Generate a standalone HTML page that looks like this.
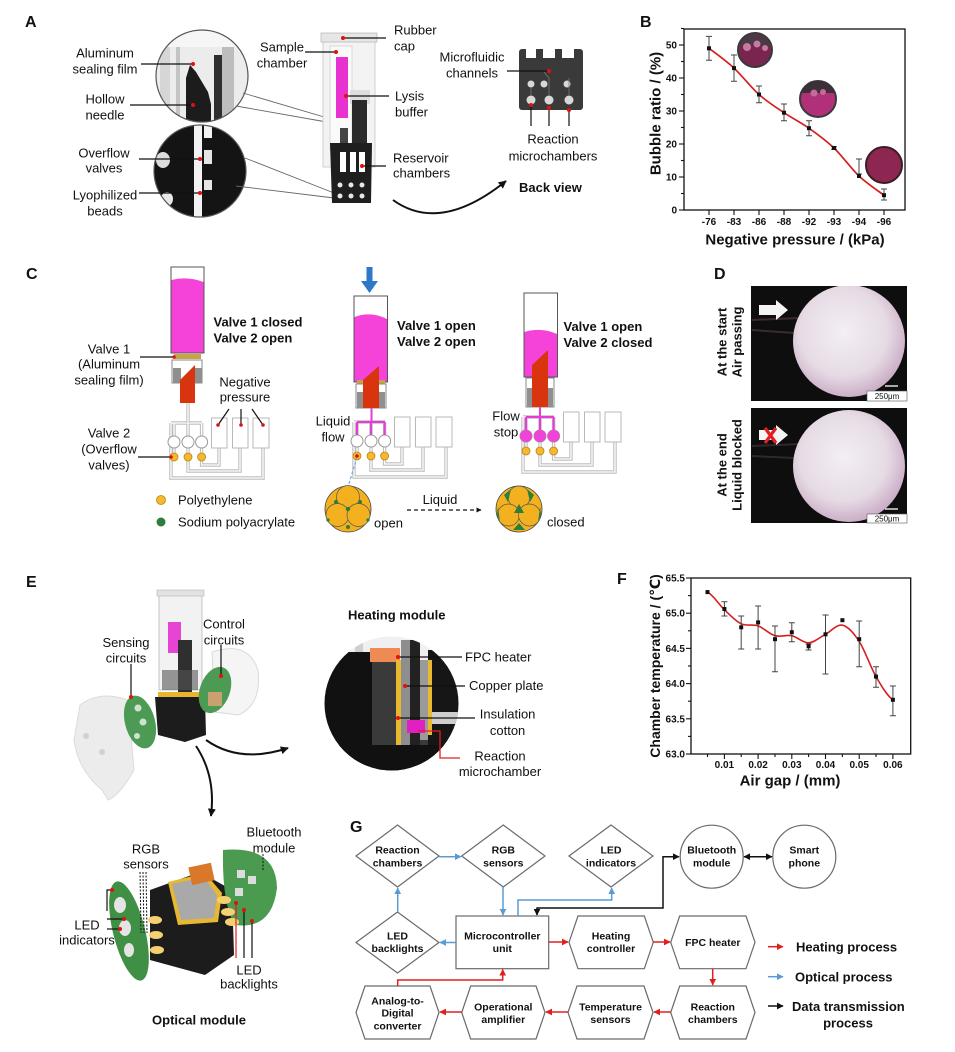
<!DOCTYPE html>
<html><head><meta charset="utf-8">
<style>
html,body{margin:0;padding:0;background:#fff;}
svg{display:block;}
text{font-family:"Liberation Sans",Arial,"DejaVu Sans",sans-serif;fill:#111;}
.b{font-weight:bold;}
.l13{font-size:13px;}
.g{font-size:10.5px;font-weight:bold;fill:#222;}
</style></head><body>
<svg width="955" height="1052" viewBox="0 0 955 1052" xmlns="http://www.w3.org/2000/svg">
<defs>
<marker id="mr" viewBox="0 0 10 10" refX="9" refY="5" markerWidth="4.5" markerHeight="4.5" orient="auto-start-reverse"><path d="M0,0 L10,5 L0,10 z" fill="#e02020"/></marker>
<marker id="mb" viewBox="0 0 10 10" refX="9" refY="5" markerWidth="4.5" markerHeight="4.5" orient="auto-start-reverse"><path d="M0,0 L10,5 L0,10 z" fill="#5b9bd5"/></marker>
<marker id="mk" viewBox="0 0 10 10" refX="9" refY="5" markerWidth="4.5" markerHeight="4.5" orient="auto-start-reverse"><path d="M0,0 L10,5 L0,10 z" fill="#111"/></marker>
<marker id="mk2" viewBox="0 0 10 10" refX="9" refY="5" markerWidth="4" markerHeight="4" orient="auto-start-reverse"><path d="M0,0 L10,5 L0,10 z" fill="#111"/></marker>
<clipPath id="cA1"><circle cx="202" cy="76" r="46"/></clipPath>
<clipPath id="cA2"><circle cx="200" cy="171" r="46"/></clipPath>
<clipPath id="cE"><circle cx="391.5" cy="703.5" r="67"/></clipPath>
<clipPath id="cD1"><rect x="751" y="286" width="156" height="115"/></clipPath>
<clipPath id="cD2"><rect x="751" y="408" width="156" height="115"/></clipPath>
<radialGradient id="sph" cx="45%" cy="42%" r="60%"><stop offset="0" stop-color="#f3eff3"/><stop offset="0.65" stop-color="#e6dbe5"/><stop offset="1" stop-color="#c9aac4"/></radialGradient>
<g id="chp">
<path d="M171,423 H202"/><path d="M171,423 V478 H263 V448"/>
<path d="M174,423 V436 M188,423 V436 M201.6,423 V436"/>
<path d="M188,461 V471 H240 V448"/><path d="M201.6,461 V465 H219 V448"/>
<path d="M174,448 V453 M188,448 V453 M201.6,448 V453"/>
</g>
</defs>
<rect width="955" height="1052" fill="#fff"/>

<!-- ================= PANEL A ================= -->
<text x="25" y="27" class="b" font-size="16">A</text>
<g clip-path="url(#cA1)">
<rect x="150" y="25" width="110" height="110" fill="#ececec"/>
<rect x="160" y="25" width="10" height="110" fill="#d6d6d6"/>
<rect x="176" y="25" width="4" height="110" fill="#c4c4c4"/>
<rect x="214" y="55" width="8" height="80" fill="#2e2e2e"/>
<rect x="222" y="25" width="12" height="110" fill="#bdbdbd"/>
<rect x="150" y="25" width="110" height="22" fill="#f6f6f6"/>
<path d="M186,125 L186,78 L190,65 L196,72 L208,92 L211,104 L211,125 Z" fill="#1c1c1c"/>
</g>
<circle cx="202" cy="76" r="46" fill="none" stroke="#555" stroke-width="1.2"/>
<g clip-path="url(#cA2)">
<rect x="150" y="120" width="110" height="110" fill="#141414"/>
<rect x="194" y="120" width="8" height="110" fill="#f2f2f2"/>
<rect x="204" y="120" width="8" height="18" fill="#f2f2f2"/>
<rect x="204" y="150" width="8" height="14" fill="#e5e5e5"/>
<rect x="204" y="180" width="8" height="10" fill="#e5e5e5"/>
<ellipse cx="163" cy="160" rx="7" ry="8" fill="#ddd"/>
<ellipse cx="167" cy="199" rx="6" ry="7" fill="#e8e8e8"/>
</g>
<circle cx="200" cy="171" r="46" fill="none" stroke="#555" stroke-width="1.2"/>
<line x1="243" y1="93" x2="341" y2="122" stroke="#666" stroke-width="0.9"/>
<line x1="236" y1="106" x2="338" y2="124" stroke="#666" stroke-width="0.9"/>
<line x1="245" y1="158" x2="334" y2="193" stroke="#666" stroke-width="0.9"/>
<line x1="236" y1="186" x2="334" y2="198" stroke="#666" stroke-width="0.9"/>
<g class="l13" text-anchor="middle">
<text x="105" y="57.5">Aluminum</text><text x="105" y="73.5">sealing film</text>
<text x="105" y="103.5">Hollow</text><text x="105" y="119.5">needle</text>
<text x="104" y="157.5">Overflow</text><text x="104" y="172.5">valves</text>
<text x="105" y="199.5">Lyophilized</text><text x="105" y="215.5">beads</text>
</g>
<g stroke="#111" stroke-width="1.2">
<line x1="141" y1="64" x2="193" y2="64"/><line x1="130" y1="105" x2="193" y2="105"/>
<line x1="139" y1="159" x2="200" y2="159"/><line x1="139" y1="193" x2="200" y2="193"/>
</g>
<g fill="#e01010"><circle cx="193" cy="64" r="2"/><circle cx="193" cy="105" r="2"/><circle cx="200" cy="159" r="2"/><circle cx="200" cy="193" r="2"/></g>
<rect x="323" y="36" width="52" height="131" fill="#f3f3f3" stroke="#cfcfcf"/>
<rect x="321" y="33" width="56" height="9" fill="#e6e6e6" stroke="#bbb" stroke-width="0.8"/>
<rect x="330" y="46" width="22" height="104" fill="#fafafa" stroke="#d8d8d8"/>
<rect x="336" y="57" width="12" height="61" fill="#e832d0"/>
<rect x="350" y="90" width="20" height="14" fill="#ddd"/>
<rect x="352" y="100" width="15" height="47" fill="#2a2a2a"/>
<rect x="340" y="128" width="8" height="20" fill="#444"/>
<path d="M330,143 L372,143 L371,203 L332,203 Z" fill="#1f1f1f"/>
<rect x="340" y="152" width="6" height="20" fill="#fff"/><rect x="350" y="152" width="6" height="20" fill="#fff"/><rect x="359" y="152" width="6" height="20" fill="#fff"/>
<g fill="#e8e8e8"><circle cx="340" cy="185" r="2.5"/><circle cx="351" cy="185" r="2.5"/><circle cx="362" cy="185" r="2.5"/><circle cx="340" cy="196" r="2.5"/><circle cx="351" cy="196" r="2.5"/><circle cx="362" cy="196" r="2.5"/></g>
<g class="l13">
<text x="282" y="51.5" text-anchor="middle">Sample</text><text x="282" y="67.5" text-anchor="middle">chamber</text>
<text x="394" y="34.5">Rubber</text><text x="394" y="50.5">cap</text>
<text x="395" y="100.5">Lysis</text><text x="395" y="116.5">buffer</text>
<text x="393" y="162.5">Reservoir</text><text x="393" y="177.5">chambers</text>
</g>
<g stroke="#111" stroke-width="1.2">
<line x1="305" y1="52" x2="336" y2="52"/><line x1="343" y1="38" x2="386" y2="38"/>
<line x1="346" y1="96" x2="389" y2="96"/><line x1="362" y1="166" x2="386" y2="166"/>
</g>
<g fill="#e01010"><circle cx="336" cy="52" r="2"/><circle cx="343" cy="38" r="2"/><circle cx="346" cy="96" r="2"/><circle cx="362" cy="166" r="2"/></g>
<path d="M393,200 Q440,234 506,181" fill="none" stroke="#111" stroke-width="2" marker-end="url(#mk2)"/>
<rect x="519" y="49" width="64" height="61" rx="3" fill="#3a3a3a"/>
<rect x="526" y="48" width="10" height="10" fill="#fff"/><rect x="543" y="48" width="12" height="10" fill="#fff"/><rect x="562" y="48" width="12" height="10" fill="#fff"/>
<g fill="#d8d8d8"><circle cx="531" cy="84" r="3.5"/><circle cx="544" cy="84" r="3.5"/><circle cx="567" cy="84" r="3.5"/><circle cx="531" cy="100" r="4.5"/><circle cx="549" cy="100" r="4.5"/><circle cx="569" cy="100" r="4.5"/></g>
<path d="M531,96 L531,88 M549,96 L549,78 L544,72 M569,96 L569,78" stroke="#777" stroke-width="0.8" fill="none"/>
<g class="l13" text-anchor="middle">
<text x="472" y="61.5">Microfluidic</text><text x="472" y="77.5">channels</text>
<text x="553" y="143.5">Reaction</text><text x="553" y="160.5">microchambers</text>
</g>
<g stroke="#111" stroke-width="1.2"><line x1="507" y1="71" x2="549" y2="71"/><line x1="531" y1="105" x2="531" y2="126"/><line x1="549" y1="108" x2="549" y2="126"/><line x1="569" y1="110" x2="569" y2="126"/></g>
<g fill="#e01010"><circle cx="549" cy="71" r="2"/><circle cx="531" cy="105" r="2"/><circle cx="549" cy="108" r="2"/><circle cx="569" cy="110" r="2"/></g>
<text x="519" y="192" class="b" font-size="13">Back view</text>

<!-- ================= PANEL B ================= -->
<text x="640" y="27" class="b" font-size="16">B</text>
<rect x="684" y="29" width="221" height="181" fill="none" stroke="#111" stroke-width="1.3"/>
<g stroke="#111" stroke-width="1.1">
<line x1="679" y1="210" x2="684" y2="210"/><line x1="679" y1="177" x2="684" y2="177"/><line x1="679" y1="144" x2="684" y2="144"/><line x1="679" y1="111" x2="684" y2="111"/><line x1="679" y1="78" x2="684" y2="78"/><line x1="679" y1="45" x2="684" y2="45"/>
<line x1="681" y1="193.5" x2="684" y2="193.5"/><line x1="681" y1="160.5" x2="684" y2="160.5"/><line x1="681" y1="127.5" x2="684" y2="127.5"/><line x1="681" y1="94.5" x2="684" y2="94.5"/><line x1="681" y1="61.5" x2="684" y2="61.5"/><line x1="681" y1="28.5" x2="684" y2="28.5"/>
<line x1="709" y1="210" x2="709" y2="215"/><line x1="734" y1="210" x2="734" y2="215"/><line x1="759" y1="210" x2="759" y2="215"/><line x1="784" y1="210" x2="784" y2="215"/><line x1="809" y1="210" x2="809" y2="215"/><line x1="834" y1="210" x2="834" y2="215"/><line x1="859" y1="210" x2="859" y2="215"/><line x1="884" y1="210" x2="884" y2="215"/>
</g>
<g class="b" font-size="10" text-anchor="end">
<text x="677" y="213.5">0</text><text x="677" y="180.5">10</text><text x="677" y="147.5">20</text><text x="677" y="114.5">30</text><text x="677" y="81.5">40</text><text x="677" y="48.5">50</text>
</g>
<g class="b" font-size="10" text-anchor="middle">
<text x="709" y="225">-76</text><text x="734" y="225">-83</text><text x="759" y="225">-86</text><text x="784" y="225">-88</text><text x="809" y="225">-92</text><text x="834" y="225">-93</text><text x="859" y="225">-94</text><text x="884" y="225">-96</text>
</g>
<text x="795" y="244.5" class="b" font-size="15" text-anchor="middle">Negative pressure / (kPa)</text>
<text transform="translate(660.5,113.5) rotate(-90)" class="b" font-size="15" text-anchor="middle">Bubble ratio / (%)</text>
<circle cx="755" cy="50" r="17" fill="#7a2550" stroke="#3a3a3a" stroke-width="2"/>
<path d="M739,46 A17,17 0 0 1 771,46 Z" fill="#4a3a44"/>
<g fill="#c67aa2"><circle cx="747" cy="47" r="4"/><circle cx="757" cy="44" r="3.5"/><circle cx="765" cy="48" r="3"/></g>
<circle cx="818" cy="99" r="18" fill="#b0307a" stroke="#3a3a3a" stroke-width="2"/>
<path d="M801,93 A18,18 0 0 1 835,93 Z" fill="#3d2f38"/>
<g fill="#c56a9b"><circle cx="814" cy="93" r="3.5"/><circle cx="823" cy="92" r="3"/></g>
<circle cx="884" cy="165" r="18" fill="#8d2650" stroke="#3a1c28" stroke-width="2"/>
<path d="M709,48.3 C713.2,51.6 725.7,60.4 734,68.1 C742.3,75.8 750.7,87.1 759,94.5 C767.3,101.9 775.7,107.1 784,112.7 C792.3,118.3 800.7,122.3 809,128.2 C817.3,134.1 825.7,140 834,148 C842.3,156 850.7,168.1 859,176 C867.3,183.9 879.8,192 884,195.2" fill="none" stroke="#d42020" stroke-width="1.7"/>
<g stroke="#444" stroke-width="1">
<path d="M709,36.4V60.2M706,36.4H712M706,60.2H712"/>
<path d="M734,55V81.3M731,55H737M731,81.3H737"/>
<path d="M759,86V102.7M756,86H762M756,102.7H762"/>
<path d="M784,104V120.7M781,104H787M781,120.7H787"/>
<path d="M809,120.7V135.7M806,120.7H812M806,135.7H812"/>
<path d="M834,146.7V149.3M831,146.7H837M831,149.3H837"/>
<path d="M859,159V174M856,159H862M856,174H862"/>
<path d="M884,189V200M881,189H887M881,200H887"/>
</g>
<g fill="#111"><rect x="707" y="46.3" width="4" height="4"/><rect x="732" y="66.1" width="4" height="4"/><rect x="757" y="92.5" width="4" height="4"/><rect x="782" y="110.7" width="4" height="4"/><rect x="807" y="126.2" width="4" height="4"/><rect x="832" y="146" width="4" height="4"/><rect x="857" y="174" width="4" height="4"/><rect x="882" y="193.2" width="4" height="4"/></g>

<!-- ================= PANEL C ================= -->
<text x="26" y="279" class="b" font-size="16">C</text>
<g id="net1">
<use href="#chp" stroke="#bdbdbd" stroke-width="3.4" fill="none"/>
<use href="#chp" stroke="#fff" stroke-width="1.3" fill="none"/>
<g fill="#fff" stroke="#b8b8b8" stroke-width="1"><rect x="211.5" y="418" width="15.5" height="30"/><rect x="232.5" y="418" width="15.5" height="30"/><rect x="253" y="418" width="16" height="30"/></g>
<g fill="#fff" stroke="#999" stroke-width="1"><circle cx="174" cy="442" r="6"/><circle cx="188" cy="442" r="6"/><circle cx="201.6" cy="442" r="6"/></g>
<g fill="#f5b82e" stroke="#b98510" stroke-width="0.8"><circle cx="174" cy="457" r="4"/><circle cx="188" cy="457" r="4"/><circle cx="201.6" cy="457" r="4"/></g>
</g>
<!-- syringe S1 -->
<rect x="171" y="267" width="33" height="86" fill="#fff" stroke="#555" stroke-width="1"/>
<path d="M171.5,280 Q187,276 203.5,282 V352.5 H171.5 Z" fill="#f542d8"/>
<rect x="174" y="354" width="27" height="5" fill="#c8a24a"/>
<rect x="172" y="360" width="30" height="23" fill="#fff" stroke="#888" stroke-width="1"/>
<rect x="173" y="368" width="8" height="15" fill="#8f8f8f"/><rect x="194" y="368" width="8" height="15" fill="#8f8f8f"/>
<line x1="188" y1="403" x2="188" y2="423" stroke="#bdbdbd" stroke-width="3.4"/>
<line x1="188" y1="403" x2="188" y2="423" stroke="#fff" stroke-width="1.3"/>
<path d="M180,403 L180,380 L195,365 L195,403 Z" fill="#d8340e"/>
<g class="b" font-size="13"><text x="213.5" y="326.5">Valve 1 closed</text><text x="213.5" y="342.5">Valve 2 open</text></g>
<g class="l13" text-anchor="middle">
<text x="109" y="353.5">Valve 1</text><text x="109" y="368.5">(Aluminum</text><text x="109" y="384.5">sealing film)</text>
<text x="245" y="386.5">Negative</text><text x="245" y="401.5">pressure</text>
<text x="109" y="437.5">Valve 2</text><text x="109" y="453.5">(Overflow</text><text x="109" y="469.5">valves)</text>
</g>
<g stroke="#111" stroke-width="1.2">
<line x1="140" y1="357" x2="174" y2="357"/><line x1="138" y1="457" x2="171" y2="457"/>
<line x1="229" y1="409" x2="218" y2="425"/><line x1="241" y1="409" x2="241" y2="425"/><line x1="252" y1="409" x2="263" y2="425"/>
</g>
<g fill="#e01010"><circle cx="174" cy="357" r="1.8"/><circle cx="171" cy="457" r="1.8"/><circle cx="218" cy="425" r="1.8"/><circle cx="241" cy="425" r="1.8"/><circle cx="263" cy="425" r="1.8"/></g>
<!-- S2 -->
<use href="#net1" transform="translate(183,-1)"/>
<g stroke="#e83ad8" stroke-width="2" fill="none"><path d="M371.5,408 V422 M357,422 H385 M357,422 V435 M371,422 V435 M384.6,422 V435"/></g>
<polygon points="366.5,267 372.5,267 372.5,281 378,281 369.5,293 361,281 366.5,281" fill="#2f78c8"/>
<rect x="354" y="296" width="33.5" height="86" fill="#fff" stroke="#555" stroke-width="1"/>
<path d="M354.5,317 Q371,311 387,319 V381.5 H354.5 Z" fill="#f542d8"/>
<rect x="357" y="380" width="28" height="4" fill="#c8a24a"/>
<rect x="356" y="384" width="30" height="24" fill="#fff" stroke="#888" stroke-width="1"/>
<rect x="357" y="392" width="8" height="16" fill="#8f8f8f"/><rect x="377" y="392" width="8" height="16" fill="#8f8f8f"/>
<path d="M363,408 L363,380 L379,366 L379,408 Z" fill="#d8340e"/>
<g class="b" font-size="13"><text x="397" y="330">Valve 1 open</text><text x="397" y="346">Valve 2 open</text></g>
<g class="l13" text-anchor="middle"><text x="333" y="425.5">Liquid</text><text x="333" y="441.5">flow</text></g>
<line x1="357" y1="457" x2="348" y2="487" stroke="#7aa6d6" stroke-width="1.2" stroke-dasharray="3,2"/>
<circle cx="357" cy="456" r="1.8" fill="#e01010"/>
<!-- S3 -->
<use href="#net1" transform="translate(352,-6)"/>
<g stroke="#e83ad8" stroke-width="2" fill="none"><path d="M540,407 V417 M526,417 H554 M526,417 V430 M540,417 V430 M553.6,417 V430"/></g>
<g fill="#f044d8"><circle cx="526" cy="436" r="6"/><circle cx="540" cy="436" r="6"/><circle cx="553.6" cy="436" r="6"/></g>
<rect x="524" y="293" width="33.5" height="84" fill="#fff" stroke="#555" stroke-width="1"/>
<path d="M524.5,332 Q541,327 557,334 V376.5 H524.5 Z" fill="#f542d8"/>
<rect x="526" y="378" width="28" height="29" fill="#fff" stroke="#888" stroke-width="1"/>
<rect x="527" y="388" width="7" height="19" fill="#8f8f8f"/><rect x="546" y="388" width="7" height="19" fill="#8f8f8f"/>
<path d="M532,407 L532,365 L548,350 L548,407 Z" fill="#d8340e"/>
<g class="b" font-size="13"><text x="563.5" y="331">Valve 1 open</text><text x="563.5" y="347">Valve 2 closed</text></g>
<g class="l13" text-anchor="middle"><text x="506" y="420.5">Flow</text><text x="506" y="436.5">stop</text></g>
<circle cx="161" cy="500" r="4.5" fill="#f5b82e" stroke="#b98510" stroke-width="0.8"/>
<circle cx="161" cy="522" r="4.5" fill="#2e7d3a"/>
<g class="l13"><text x="178" y="504.5">Polyethylene</text><text x="178" y="526.5">Sodium polyacrylate</text></g>
<g>
<circle cx="348" cy="509" r="23" fill="#f3b120" stroke="#444" stroke-width="0.8"/>
<g fill="#f3b120" stroke="#555" stroke-width="0.7"><circle cx="348" cy="497" r="11.5"/><circle cx="337.5" cy="515" r="11.5"/><circle cx="358.5" cy="515" r="11.5"/></g>
<g fill="#2e7d3a"><circle cx="348" cy="509" r="2.2"/><circle cx="336" cy="502" r="2"/><circle cx="360" cy="502" r="2"/><circle cx="348" cy="527" r="2"/><circle cx="328" cy="520" r="1.6"/><circle cx="368" cy="520" r="1.6"/></g>
</g>
<text x="374" y="527.5" class="l13">open</text>
<text x="440" y="504" class="l13" text-anchor="middle">Liquid</text>
<line x1="407" y1="510" x2="481" y2="510" stroke="#111" stroke-width="1.3" stroke-dasharray="4,3" marker-end="url(#mk2)"/>
<g>
<circle cx="519" cy="509" r="23" fill="#f3b120" stroke="#444" stroke-width="0.8"/>
<g fill="#f3b120" stroke="#555" stroke-width="0.7"><circle cx="519" cy="497" r="11"/><circle cx="508.5" cy="515" r="11"/><circle cx="529.5" cy="515" r="11"/></g>
<g fill="#2e7d3a"><path d="M519,504 L524,513 L514,513 Z"/><path d="M504,495 L511,489 L508,502 Z"/><path d="M534,495 L527,489 L530,502 Z"/><path d="M513,530 L525,530 L519,523 Z"/><path d="M497,514 L500,522 L498,507 Z"/><path d="M541,514 L538,522 L540,507 Z"/></g>
</g>
<text x="547" y="526.5" class="l13">closed</text>

<!-- ================= PANEL D ================= -->
<text x="714" y="279" class="b" font-size="16">D</text>
<rect x="751" y="286" width="156" height="115" fill="#0e0e0e"/>
<g clip-path="url(#cD1)">
<path d="M752,320 L800,318 M752,330 L795,333" stroke="#3a2a34" stroke-width="2"/>
<circle cx="849" cy="341" r="56" fill="url(#sph)"/>
</g>
<polygon points="759,305 776,305 776,300 788,310 776,320 776,315 759,315" fill="#f4f4f4"/>
<rect x="867" y="391" width="40" height="10" fill="#fff" stroke="#555" stroke-width="0.6"/>
<text x="887" y="399" font-size="8" text-anchor="middle">250μm</text>
<line x1="885" y1="386" x2="898" y2="386" stroke="#fff" stroke-width="1.3"/>
<rect x="751" y="408" width="156" height="115" fill="#0e0e0e"/>
<g clip-path="url(#cD2)">
<path d="M752,446 L800,444 M752,456 L795,458" stroke="#2e2a2c" stroke-width="2"/>
<circle cx="849" cy="466" r="56" fill="url(#sph)"/>
</g>
<polygon points="759,430 776,430 776,425 788,435 776,445 776,440 759,440" fill="#f4f4f4"/>
<path d="M765,428 L776,443 M776,428 L765,443" stroke="#e02020" stroke-width="3.2"/>
<rect x="867" y="514" width="40" height="9" fill="#fff" stroke="#555" stroke-width="0.6"/>
<text x="887" y="521.5" font-size="8" text-anchor="middle">250μm</text>
<line x1="885" y1="509" x2="898" y2="509" stroke="#fff" stroke-width="1.3"/>
<g class="b" font-size="13" text-anchor="middle">
<text transform="translate(726.5,342) rotate(-90)">At the start</text>
<text transform="translate(741.5,342) rotate(-90)">Air passing</text>
<text transform="translate(726.5,465) rotate(-90)">At the end</text>
<text transform="translate(741.5,465) rotate(-90)">Liquid blocked</text>
</g>

<!-- ================= PANEL E ================= -->
<text x="26" y="587" class="b" font-size="16">E</text>
<path d="M80,705 Q100,690 128,700 L134,770 Q120,795 108,800 L102,790 Q78,770 74,740 Z" fill="#ececec" stroke="#dcdcdc"/>
<circle cx="86" cy="736" r="3" fill="#d0d0d0"/><circle cx="102" cy="752" r="3" fill="#d0d0d0"/>
<ellipse cx="140" cy="722" rx="15" ry="27" transform="rotate(-15 140 722)" fill="#4d9a55"/>
<g fill="#cfe2cf"><circle cx="138" cy="708" r="3.5"/><circle cx="143" cy="722" r="3.5"/><circle cx="137" cy="736" r="3"/></g>
<rect x="159" y="592" width="43" height="98" fill="#f2f2f2" stroke="#c4c4c4"/>
<rect x="157" y="590" width="47" height="6" fill="#e2e2e2" stroke="#bdbdbd" stroke-width="0.7"/>
<rect x="168" y="622" width="13" height="31" fill="#e545d2"/>
<rect x="178" y="640" width="14" height="52" fill="#2f2f2f"/>
<rect x="162" y="670" width="36" height="20" fill="#555" opacity="0.6"/>
<path d="M155,697 L205,697 L206,735 L185,742 L158,735 Z" fill="#1c1c1c"/>
<rect x="158" y="692" width="44" height="5" fill="#e8b52e"/>
<path d="M212,652 Q248,640 258,670 Q262,705 238,715 L215,712 Z" fill="#f5f5f5" stroke="#dadada"/>
<ellipse cx="215" cy="690" rx="15" ry="24" transform="rotate(20 215 690)" fill="#4d9a55"/>
<rect x="208" y="692" width="14" height="14" fill="#c9a070"/>
<g class="l13" text-anchor="middle">
<text x="126" y="647">Sensing</text><text x="126" y="662.5">circuits</text>
<text x="224" y="628.5">Control</text><text x="224" y="644.5">circuits</text>
</g>
<g stroke="#111" stroke-width="1.2"><line x1="131" y1="664" x2="131" y2="697"/><line x1="221" y1="645" x2="221" y2="676"/></g>
<g fill="#e01010"><circle cx="131" cy="697" r="2"/><circle cx="221" cy="676" r="2"/></g>
<path d="M206,740 Q240,764 288,748" fill="none" stroke="#111" stroke-width="2" marker-end="url(#mk2)"/>
<path d="M196,746 Q216,776 211,816" fill="none" stroke="#111" stroke-width="2" marker-end="url(#mk2)"/>
<text x="348" y="619.5" class="b" font-size="13">Heating module</text>
<g clip-path="url(#cE)">
<rect x="320" y="630" width="145" height="145" fill="#f0f0f0"/>
<rect x="355" y="630" width="8" height="30" fill="#cfcfcf"/><rect x="440" y="630" width="10" height="30" fill="#d4d4d4"/>
<path d="M324,666 L346,652 L372,652 L372,775 L320,775 Z" fill="#111"/>
<rect x="428" y="650" width="40" height="125" fill="#161616"/>
<rect x="372" y="660" width="56" height="115" fill="#3a3a3a"/>
<rect x="370" y="648" width="30" height="14" fill="#f08a55"/>
<rect x="396" y="660" width="5" height="100" fill="#e8b830"/>
<rect x="401" y="640" width="9" height="120" fill="#8e8e8e"/>
<rect x="410" y="640" width="10" height="120" fill="#222"/>
<rect x="420" y="660" width="8" height="80" fill="#9a9a9a"/>
<rect x="428" y="660" width="4" height="75" fill="#e8b830"/>
<rect x="407" y="720" width="18" height="13" fill="#e020c0"/>
<rect x="432" y="712" width="30" height="12" fill="#cfcfcf"/>
<rect x="320" y="745" width="145" height="30" fill="#111"/>
</g>
<g class="l13">
<text x="465" y="661.5">FPC heater</text><text x="469" y="690">Copper plate</text>
<text x="507.6" y="718.5" text-anchor="middle">Insulation</text><text x="507.6" y="735" text-anchor="middle">cotton</text>
<text x="500" y="760.5" text-anchor="middle">Reaction</text><text x="500" y="776" text-anchor="middle">microchamber</text>
</g>
<g stroke="#111" stroke-width="1.2"><line x1="398" y1="657" x2="462" y2="657"/><line x1="405" y1="686" x2="465" y2="686"/><line x1="398" y1="718" x2="475" y2="718"/></g>
<polyline points="418,731 440,731 440,758 460,758" fill="none" stroke="#e02020" stroke-width="1.3"/>
<g fill="#e01010"><circle cx="398" cy="657" r="2"/><circle cx="405" cy="686" r="2"/><circle cx="398" cy="718" r="2"/></g>
<ellipse cx="129" cy="931" rx="16" ry="51" transform="rotate(-14 129 931)" fill="#3f8f45"/>
<g fill="#e4e4e4"><ellipse cx="120" cy="905" rx="6" ry="8"/><ellipse cx="125" cy="928" rx="6" ry="8"/><ellipse cx="129" cy="950" rx="5" ry="7"/></g>
<path d="M150,890 L200,872 L232,890 L234,955 L205,975 L150,960 Z" fill="#1c1c1c"/>
<path d="M168,882 L205,873 L222,893 L218,922 L178,925 Z" fill="#e8b830"/>
<path d="M172,884 L204,877 L217,895 L214,918 L181,920 Z" fill="#a9a9a9"/>
<rect x="190" y="865" width="23" height="18" fill="#d9772a" transform="rotate(-12 201 874)"/>
<path d="M223,850 Q276,845 277,888 Q272,930 235,925 Q222,905 223,850 Z" fill="#4a9a50"/>
<g fill="#dcdcdc"><rect x="237" y="870" width="8" height="8"/><rect x="248" y="876" width="8" height="8"/><rect x="235" y="888" width="8" height="8"/></g>
<g fill="#f5d070"><ellipse cx="155" cy="920" rx="7" ry="4"/><ellipse cx="156" cy="935" rx="7" ry="4"/><ellipse cx="157" cy="950" rx="7" ry="4"/><ellipse cx="224" cy="900" rx="7" ry="4"/><ellipse cx="228" cy="912" rx="7" ry="4"/><ellipse cx="232" cy="922" rx="7" ry="4"/></g>
<g class="l13" text-anchor="middle">
<text x="274" y="836.5">Bluetooth</text><text x="274" y="852.5">module</text>
<text x="146" y="853.5">RGB</text><text x="146" y="868.5">sensors</text>
<text x="87" y="929.5">LED</text><text x="87" y="944.5">indicators</text>
<text x="249" y="974.5">LED</text><text x="249" y="988.5">backlights</text>
</g>
<g stroke="#111" stroke-width="1" stroke-dasharray="2,1.5"><line x1="263" y1="854" x2="263" y2="870"/><line x1="140" y1="872" x2="141" y2="933"/><line x1="143" y1="872" x2="144" y2="933"/><line x1="146" y1="872" x2="147" y2="933"/></g>
<g stroke="#111" stroke-width="1.2"><polyline points="112,890 107,890 107,911" fill="none"/><polyline points="124,919 107,919" fill="none"/><polyline points="120,929 107,929" fill="none"/><line x1="244" y1="910" x2="244" y2="958"/><line x1="252" y1="921" x2="252" y2="958"/></g>
<line x1="236" y1="903" x2="236" y2="958" stroke="#e02020" stroke-width="1.2"/>
<g fill="#e01010"><circle cx="112" cy="890" r="2"/><circle cx="124" cy="919" r="2"/><circle cx="120" cy="929" r="2"/><circle cx="236" cy="903" r="2"/><circle cx="244" cy="910" r="2"/><circle cx="252" cy="921" r="2"/></g>
<text x="199" y="1024.5" class="b" font-size="13" text-anchor="middle">Optical module</text>

<!-- ================= PANEL F ================= -->
<text x="617" y="584" class="b" font-size="16">F</text>
<rect x="691" y="578" width="219.7" height="176" fill="none" stroke="#111" stroke-width="1.3"/>
<g stroke="#111" stroke-width="1.1">
<line x1="686" y1="754" x2="691" y2="754"/><line x1="686" y1="718.8" x2="691" y2="718.8"/><line x1="686" y1="683.6" x2="691" y2="683.6"/><line x1="686" y1="648.4" x2="691" y2="648.4"/><line x1="686" y1="613.2" x2="691" y2="613.2"/><line x1="686" y1="578" x2="691" y2="578"/>
<line x1="688" y1="736.4" x2="691" y2="736.4"/><line x1="688" y1="701.2" x2="691" y2="701.2"/><line x1="688" y1="666" x2="691" y2="666"/><line x1="688" y1="630.8" x2="691" y2="630.8"/><line x1="688" y1="595.6" x2="691" y2="595.6"/>
<line x1="724.4" y1="754" x2="724.4" y2="759"/><line x1="758.1" y1="754" x2="758.1" y2="759"/><line x1="791.8" y1="754" x2="791.8" y2="759"/><line x1="825.5" y1="754" x2="825.5" y2="759"/><line x1="859.2" y1="754" x2="859.2" y2="759"/><line x1="892.9" y1="754" x2="892.9" y2="759"/>
<line x1="707.5" y1="754" x2="707.5" y2="757"/><line x1="741.2" y1="754" x2="741.2" y2="757"/><line x1="775" y1="754" x2="775" y2="757"/><line x1="808.6" y1="754" x2="808.6" y2="757"/><line x1="842.4" y1="754" x2="842.4" y2="757"/><line x1="876" y1="754" x2="876" y2="757"/>
</g>
<g class="b" font-size="10" text-anchor="end">
<text x="685" y="757.5">63.0</text><text x="685" y="722.3">63.5</text><text x="685" y="687.1">64.0</text><text x="685" y="651.9">64.5</text><text x="685" y="616.7">65.0</text><text x="685" y="581.5">65.5</text>
</g>
<g class="b" font-size="10" text-anchor="middle">
<text x="724.4" y="768">0.01</text><text x="758.1" y="768">0.02</text><text x="791.8" y="768">0.03</text><text x="825.5" y="768">0.04</text><text x="859.2" y="768">0.05</text><text x="892.9" y="768">0.06</text>
</g>
<text x="790" y="785.5" class="b" font-size="15" text-anchor="middle">Air gap / (mm)</text>
<text transform="translate(660,666) rotate(-90)" class="b" font-size="14" text-anchor="middle">Chamber temperature / (℃)</text>
<path d="M707.5,592.1 C713.1,595 718.8,604.4 724.4,609.7 C730,615 735.6,621.1 741.2,623.8 C746.8,626.5 752.5,623.9 758.1,625.9 C763.7,627.9 769.4,634.1 775,635.7 C780.6,637.3 786.2,634.5 791.8,635.7 C797.4,636.9 803,643 808.6,642.8 C814.2,642.6 819.9,637.2 825.5,634.3 C831.1,631.4 836.8,624 842.4,625.2 C848,626.4 853.6,632.8 859.2,641.4 C864.8,650 870.4,666.9 876,676.6 C881.6,686.3 887.3,695.9 892.9,699.8" fill="none" stroke="#d42020" stroke-width="1.6"/>
<g stroke="#444" stroke-width="1">
<path d="M724.4,601.7V616M721.4,601.7H727.4M721.4,616H727.4"/>
<path d="M741.2,616V649M738.2,616H744.2M738.2,649H744.2"/>
<path d="M758.1,606V649M755.1,606H761.1M755.1,649H761.1"/>
<path d="M775,626V671.7M772,626H778M772,671.7H778"/>
<path d="M791.8,622.7V641.7M788.8,622.7H794.8M788.8,641.7H794.8"/>
<path d="M808.6,644V650M805.6,644H811.6M805.6,650H811.6"/>
<path d="M825.5,615V674M822.5,615H828.5M822.5,674H828.5"/>
<path d="M859.2,621V666.7M856.2,621H862.2M856.2,666.7H862.2"/>
<path d="M876,666.7V687.3M873,666.7H879M873,687.3H879"/>
<path d="M892.9,686V715.7M889.9,686H895.9M889.9,715.7H895.9"/>
</g>
<g fill="#111"><rect x="705.5" y="590.1" width="4" height="4"/><rect x="722.4" y="607" width="4" height="4"/><rect x="739.2" y="625.3" width="4" height="4"/><rect x="756.1" y="620.4" width="4" height="4"/><rect x="773" y="637.2" width="4" height="4"/><rect x="789.8" y="630.2" width="4" height="4"/><rect x="806.6" y="644.3" width="4" height="4"/><rect x="823.5" y="632.3" width="4" height="4"/><rect x="840.4" y="618.2" width="4" height="4"/><rect x="857.2" y="637.2" width="4" height="4"/><rect x="874" y="674.6" width="4" height="4"/><rect x="890.9" y="697.8" width="4" height="4"/></g>

<!-- ================= PANEL G ================= -->
<text x="350" y="832" class="b" font-size="16">G</text>
<g fill="#fff" stroke="#6a6a6a" stroke-width="1.2">
<polygon points="356,856 397.5,825 439,856 397.5,887"/>
<polygon points="461.7,856 503.3,825 545,856 503.3,887"/>
<polygon points="569,856 611,825 653,856 611,887"/>
<polygon points="356,942.5 397.5,912 439,942.5 397.5,973"/>
<rect x="456" y="916" width="92.7" height="52.7"/>
<polygon points="569,942.3 578,916 644.3,916 653.3,942.3 644.3,968.7 578,968.7"/>
<polygon points="670.7,942.3 679.7,916 746,916 755,942.3 746,968.7 679.7,968.7"/>
<polygon points="356,1012.5 365,986 430,986 439,1012.5 430,1039 365,1039"/>
<polygon points="461.7,1012.5 470.7,986 536,986 545,1012.5 536,1039 470.7,1039"/>
<polygon points="568,1012.5 577,986 644,986 653,1012.5 644,1039 577,1039"/>
<polygon points="670.7,1012.5 679.7,986 746,986 755,1012.5 746,1039 679.7,1039"/>
<circle cx="711.7" cy="856.7" r="31.5"/>
<circle cx="804.3" cy="856.7" r="31.5"/>
</g>
<g class="g" text-anchor="middle">
<text x="397.5" y="853.7">Reaction</text><text x="397.5" y="866.4">chambers</text>
<text x="503.3" y="853.7">RGB</text><text x="503.3" y="866.4">sensors</text>
<text x="611" y="853.7">LED</text><text x="611" y="866.4">indicators</text>
<text x="397.5" y="939.7">LED</text><text x="397.5" y="952.2">backlights</text>
<text x="502.3" y="939.7">Microcontroller</text><text x="502.3" y="952.2">unit</text>
<text x="611" y="939.7">Heating</text><text x="611" y="952.2">controller</text>
<text x="712.8" y="946">FPC heater</text>
<text x="397.5" y="1004.4">Analog-to-</text><text x="397.5" y="1016.4">Digital</text><text x="397.5" y="1029.4">converter</text>
<text x="503.3" y="1010.4">Operational</text><text x="503.3" y="1023">amplifier</text>
<text x="610.5" y="1010.4">Temperature</text><text x="610.5" y="1023">sensors</text>
<text x="712.8" y="1010.4">Reaction</text><text x="712.8" y="1023">chambers</text>
<text x="711.7" y="853.7">Bluetooth</text><text x="711.7" y="866.4">module</text>
<text x="804.3" y="853.7">Smart</text><text x="804.3" y="866.4">phone</text>
</g>
<g fill="none" stroke="#5b9bd5" stroke-width="1.5">
<line x1="439" y1="856.7" x2="461" y2="856.7" marker-end="url(#mb)"/>
<line x1="503" y1="887" x2="503" y2="915" marker-end="url(#mb)"/>
<polyline points="518,916 518,900 611.7,900 611.7,888" marker-end="url(#mb)"/>
<line x1="397.7" y1="912" x2="397.7" y2="888" marker-end="url(#mb)"/>
<line x1="456" y1="942.5" x2="440" y2="942.5" marker-end="url(#mb)"/>
<line x1="768" y1="976.7" x2="783" y2="976.7" marker-end="url(#mb)"/>
</g>
<g fill="none" stroke="#111" stroke-width="1.5">
<polyline points="679,856.7 663,856.7 663,908 537,908 537,915" marker-start="url(#mk)" marker-end="url(#mk)"/>
<line x1="744" y1="856.7" x2="772" y2="856.7" marker-start="url(#mk)" marker-end="url(#mk)"/>
<line x1="768" y1="1006" x2="783" y2="1006" marker-end="url(#mk)"/>
</g>
<g fill="none" stroke="#e02020" stroke-width="1.5">
<line x1="548.7" y1="942" x2="568" y2="942" marker-end="url(#mr)"/>
<line x1="653.3" y1="942" x2="670" y2="942" marker-end="url(#mr)"/>
<line x1="712.7" y1="968.7" x2="712.7" y2="985" marker-end="url(#mr)"/>
<line x1="670.7" y1="1012" x2="654" y2="1012" marker-end="url(#mr)"/>
<line x1="568" y1="1012" x2="546" y2="1012" marker-end="url(#mr)"/>
<line x1="461.7" y1="1012" x2="440" y2="1012" marker-end="url(#mr)"/>
<polyline points="397.7,986 397.7,980 502.7,980 502.7,969.5" marker-end="url(#mr)"/>
<line x1="768" y1="946.7" x2="783" y2="946.7" marker-end="url(#mr)"/>
</g>
<g class="b" font-size="13">
<text x="796" y="951.5">Heating process</text>
<text x="795" y="981.5">Optical process</text>
<text x="792" y="1011">Data transmission</text>
<text x="848" y="1027.5" text-anchor="middle">process</text>
</g>
</svg>
</body></html>
